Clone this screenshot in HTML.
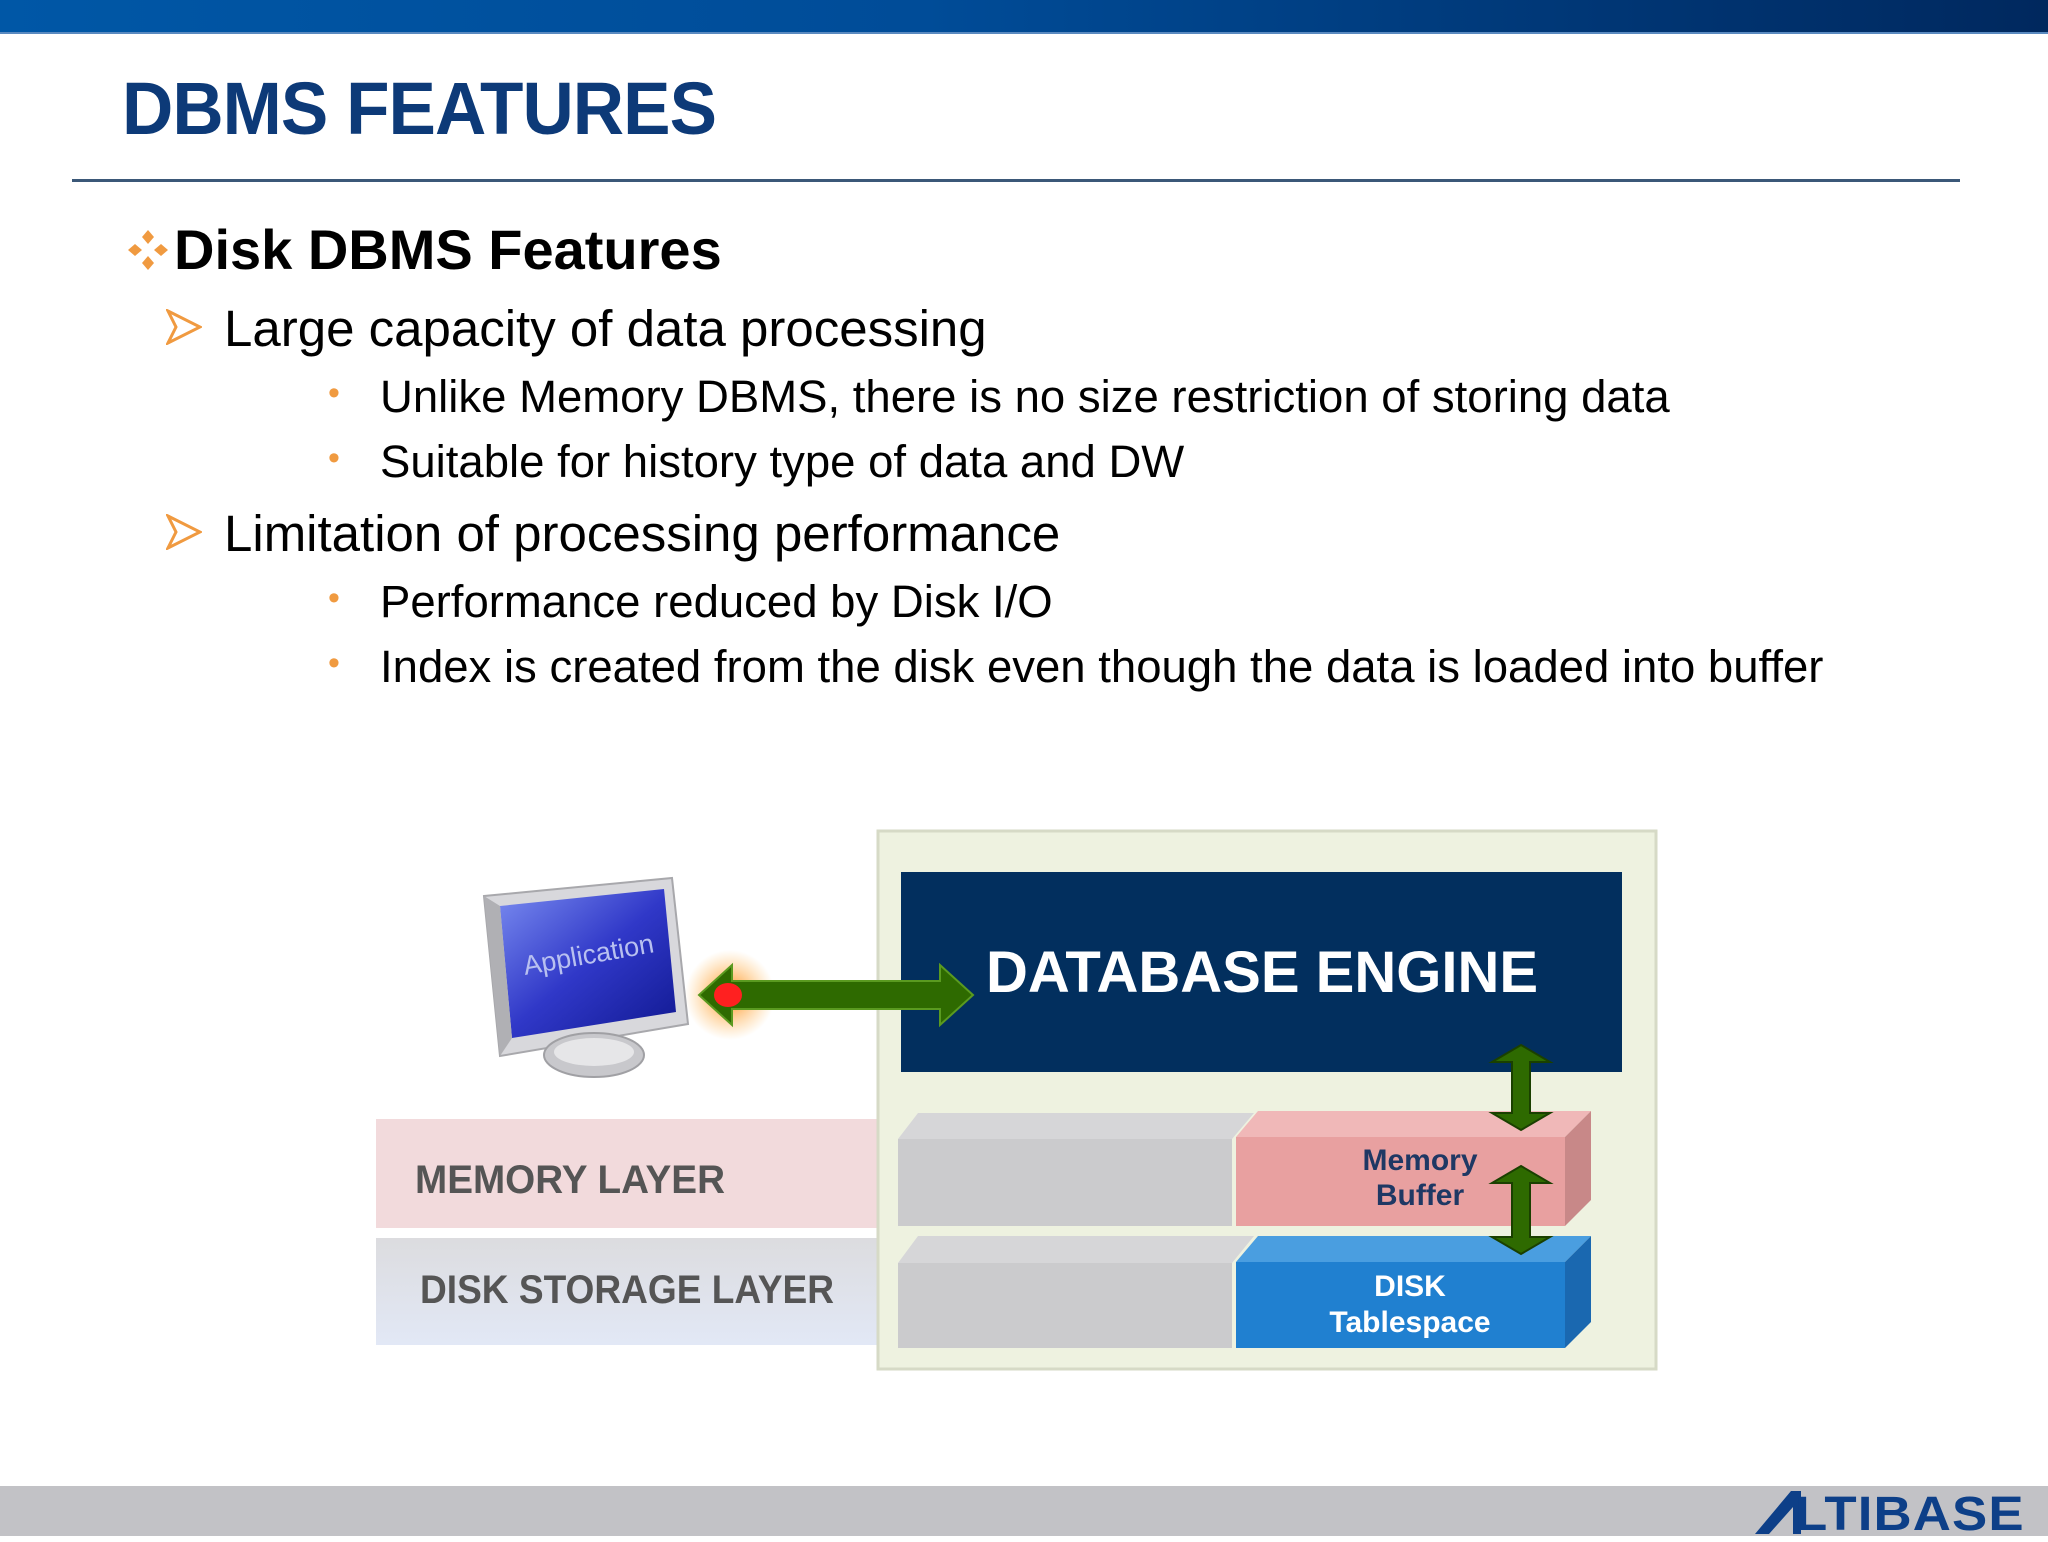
<!DOCTYPE html>
<html><head><meta charset="utf-8">
<style>
html,body{margin:0;padding:0;}
body{width:2048px;height:1536px;position:relative;overflow:hidden;background:#fff;font-family:"Liberation Sans",sans-serif;}
.abs{position:absolute;white-space:nowrap;}
</style></head><body>
<div class="abs" style="left:0;top:0;width:2048px;height:34px;background:linear-gradient(90deg,#0057a6 0%,#004c98 45%,#00285e 100%);border-bottom:2px solid #5a8ac0;box-sizing:border-box"></div>
<div class="abs" style="left:122px;top:66px;font-size:74px;font-weight:bold;color:#0d3a78;letter-spacing:-1px;transform:scaleX(0.96);transform-origin:left">DBMS FEATURES</div>
<div class="abs" style="left:72px;top:179px;width:1888px;height:3px;background:#3b5878"></div>

<svg class="abs" style="left:126px;top:228px" width="44" height="44" viewBox="0 0 44 44">
<g fill="#f09a40"><path d="M22 2 L28 9 L22 16 L16 9Z"/><path d="M22 28 L28 35 L22 42 L16 35Z"/><path d="M2 22 L9 16 L16 22 L9 28Z"/><path d="M28 22 L35 16 L42 22 L35 28Z"/></g></svg>
<div class="abs" style="left:174px;top:217px;font-size:56px;font-weight:bold;color:#000">Disk DBMS Features</div>

<svg class="abs" style="left:166px;top:309px" width="36" height="36" viewBox="0 0 36 36"><path d="M2 2 L34 18 L2 34 L10 18Z" fill="none" stroke="#f09a40" stroke-width="3"/></svg>
<div class="abs" style="left:224px;top:299px;font-size:51px;color:#000">Large capacity of data processing</div>
<div class="abs" style="left:328px;top:374px;font-size:34px;color:#f09a40">•</div>
<div class="abs" style="left:380px;top:371px;font-size:45.5px;color:#000">Unlike Memory DBMS, there is no size restriction of storing data</div>
<div class="abs" style="left:328px;top:439px;font-size:34px;color:#f09a40">•</div>
<div class="abs" style="left:380px;top:436px;font-size:45.5px;color:#000">Suitable for history type of data and DW</div>

<svg class="abs" style="left:166px;top:514px" width="36" height="36" viewBox="0 0 36 36"><path d="M2 2 L34 18 L2 34 L10 18Z" fill="none" stroke="#f09a40" stroke-width="3"/></svg>
<div class="abs" style="left:224px;top:504px;font-size:51px;color:#000">Limitation of processing performance</div>
<div class="abs" style="left:328px;top:579px;font-size:34px;color:#f09a40">•</div>
<div class="abs" style="left:380px;top:576px;font-size:45.5px;color:#000">Performance reduced by Disk I/O</div>
<div class="abs" style="left:328px;top:644px;font-size:34px;color:#f09a40">•</div>
<div class="abs" style="left:380px;top:641px;font-size:45.5px;color:#000">Index is created from the disk even though the data is loaded into buffer</div>

<svg class="abs" style="left:0;top:0" width="2048" height="1536" viewBox="0 0 2048 1536">
<defs>
<linearGradient id="scr" x1="0" y1="0" x2="1" y2="1"><stop offset="0" stop-color="#7a8cf0"/><stop offset="0.5" stop-color="#3038c8"/><stop offset="1" stop-color="#101890"/></linearGradient>
<radialGradient id="glow"><stop offset="0" stop-color="#ff8000" stop-opacity="0.9"/><stop offset="1" stop-color="#ffb040" stop-opacity="0"/></radialGradient>
<linearGradient id="dl" x1="0" y1="0" x2="0" y2="1"><stop offset="0" stop-color="#dcdcdf"/><stop offset="1" stop-color="#e2e8f6"/></linearGradient>
</defs>
<rect x="376" y="1119" width="502" height="109" fill="#f2dadc"/>
<rect x="376" y="1238" width="502" height="107" fill="url(#dl)"/>
<text x="415" y="1193" font-size="40" font-weight="bold" fill="#555" textLength="310" lengthAdjust="spacingAndGlyphs">MEMORY LAYER</text>
<text x="420" y="1303" font-size="40" font-weight="bold" fill="#555" textLength="414" lengthAdjust="spacingAndGlyphs">DISK STORAGE LAYER</text>
<rect x="878" y="831" width="778" height="538" fill="#eef2e0" stroke="#d6dac6" stroke-width="3"/>
<rect x="901" y="872" width="721" height="200" fill="#022f5e"/>
<text x="1262" y="992" font-size="58" font-weight="bold" fill="#fff" text-anchor="middle">DATABASE ENGINE</text>
<path d="M898 1139 L918 1113 L1254 1113 L1232 1139Z" fill="#d6d6d8"/>
<rect x="898" y="1139" width="334" height="87" fill="#cbcbcd"/>
<path d="M898 1263 L918 1236 L1254 1236 L1232 1263Z" fill="#d6d6d8"/>
<rect x="898" y="1263" width="334" height="85" fill="#cbcbcd"/>
<path d="M1236 1137 L1258 1111 L1591 1111 L1565 1137Z" fill="#f0b8b8"/>
<path d="M1565 1137 L1591 1111 L1591 1200 L1565 1226Z" fill="#c88888"/>
<rect x="1236" y="1137" width="329" height="89" fill="#e8a0a0"/>
<text x="1420" y="1170" font-size="30" font-weight="bold" fill="#1f3864" text-anchor="middle">Memory</text>
<text x="1420" y="1205" font-size="30" font-weight="bold" fill="#1f3864" text-anchor="middle">Buffer</text>
<path d="M1236 1262 L1258 1236 L1591 1236 L1565 1262Z" fill="#4a9ee0"/>
<path d="M1565 1262 L1591 1236 L1591 1322 L1565 1348Z" fill="#1a68b0"/>
<rect x="1236" y="1262" width="329" height="86" fill="#2080d0"/>
<text x="1410" y="1296" font-size="30" font-weight="bold" fill="#fff" text-anchor="middle">DISK</text>
<text x="1410" y="1332" font-size="30" font-weight="bold" fill="#fff" text-anchor="middle">Tablespace</text>
<g fill="#2e6a00" stroke="#1a4000" stroke-width="2">
<path d="M1521 1045 L1550 1062 L1530 1062 L1530 1113 L1550 1113 L1521 1130 L1492 1113 L1512 1113 L1512 1062 L1492 1062Z"/>
<path d="M1521 1166 L1550 1183 L1530 1183 L1530 1237 L1550 1237 L1521 1254 L1492 1237 L1512 1237 L1512 1183 L1492 1183Z"/>
</g>
<circle cx="730" cy="995" r="45" fill="url(#glow)"/>
<path d="M699 995 L732 965 L732 981 L940 981 L940 965 L973 995 L940 1025 L940 1009 L732 1009 L732 1025Z" fill="#2e6a00" stroke="#5a9a20" stroke-width="2"/>
<ellipse cx="728" cy="995" rx="14" ry="12" fill="#ff2020"/>
<path d="M484 896 L672 878 L688 1024 L500 1056Z" fill="#d8d8dc" stroke="#a8a8ac" stroke-width="2"/>
<path d="M500 906 L664 889 L676 1012 L512 1038Z" fill="url(#scr)"/>
<path d="M484 896 L500 906 L512 1038 L500 1056Z" fill="#b0b0b4"/>
<path d="M570 1048 L610 1042 L615 1065 L575 1070Z" fill="#9a9a9e"/>
<ellipse cx="594" cy="1055" rx="50" ry="22" fill="#c8c8cc" stroke="#a0a0a4" stroke-width="2"/>
<ellipse cx="594" cy="1052" rx="40" ry="14" fill="#e6e6e8"/>
<text x="525" y="975" font-size="27" fill="#b8c0f0" transform="rotate(-10 525 975)">Application</text>
</svg>

<div class="abs" style="left:0;top:1486px;width:2048px;height:50px;background:#c2c2c6"></div>
<svg class="abs" style="left:1755px;top:1489px" width="50" height="46" viewBox="0 0 50 46"><path d="M0 45 L36 2 L46 2 L46 45 L38 45 L38 18 L14 45Z" fill="#0d3f88"/></svg>
<div class="abs" style="left:1795px;top:1487px;font-size:48px;font-weight:bold;color:#0d3f88;letter-spacing:1px;transform:scaleX(1.1);transform-origin:left">LTIBASE</div>
</body></html>
